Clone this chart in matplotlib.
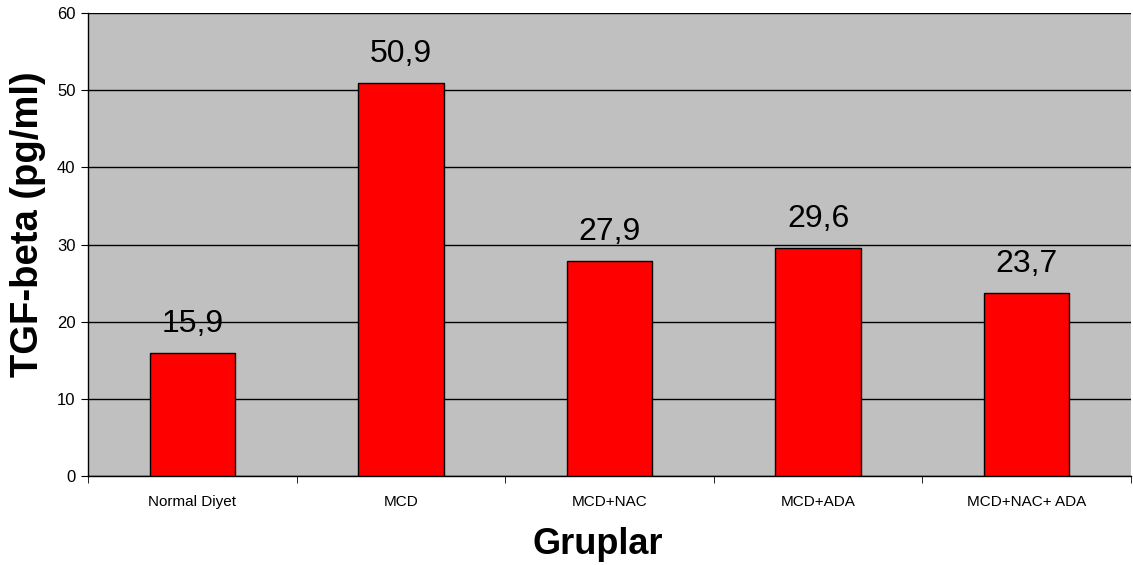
import numpy as np
import matplotlib
matplotlib.use("Agg")
import matplotlib.pyplot as plt

plt.rcParams['font.family'] = ['Liberation Sans', 'DejaVu Sans']

# Group means
groups = ['Normal Diyet', 'MCD', 'MCD+NAC', 'MCD+ADA', 'MCD+NAC+ ADA']
values = [15.9, 50.9, 27.9, 29.6, 23.7]
labels = ['15,9', '50,9', '27,9', '29,6', '23,7']

fig = plt.figure(figsize=(11.33, 5.65), dpi=100)
ax = fig.add_axes([0.0777, 0.1575, 0.9205, 0.8195])
ax.set_facecolor('#c0c0c0')

x = np.arange(len(groups))
bars = ax.bar(x, values, width=0.41, color='#ff0000', edgecolor='black',
              linewidth=1, zorder=3)

for b, lab in zip(bars, labels):
    ax.annotate(lab, (b.get_x() + b.get_width() / 2, b.get_height()),
                xytext=(0, 10), textcoords='offset points',
                ha='center', va='bottom', fontsize=23, zorder=4)

ax.set_xlim(-0.5, len(groups) - 0.5)
ax.set_ylim(0, 60)
ax.set_yticks(np.arange(0, 61, 10))
ax.yaxis.grid(True, color='black', linewidth=1, zorder=1)
ax.set_axisbelow(True)

# category labels centred, tick marks on the boundaries
ax.set_xticks(x)
ax.set_xticklabels(groups, fontsize=11)
ax.tick_params(axis='x', length=0, pad=14)
ax.set_xticks(np.arange(-0.5, len(groups)), minor=True)
ax.tick_params(axis='x', which='minor', length=5, direction='out')
ax.tick_params(axis='y', length=5, direction='out', labelsize=12, pad=4)

for side in ['top', 'right']:
    ax.spines[side].set_visible(False)
ax.spines['left'].set_linewidth(1)
ax.spines['bottom'].set_linewidth(1)

fig.text(0.025, 0.6035, 'TGF-beta (pg/ml)', rotation=90, ha='center',
         va='center', fontsize=27.5, fontweight='bold')
fig.text(0.528, 0.037, 'Gruplar', ha='center', va='center',
         fontsize=26, fontweight='bold')

fig.savefig('out.png', dpi=100)
